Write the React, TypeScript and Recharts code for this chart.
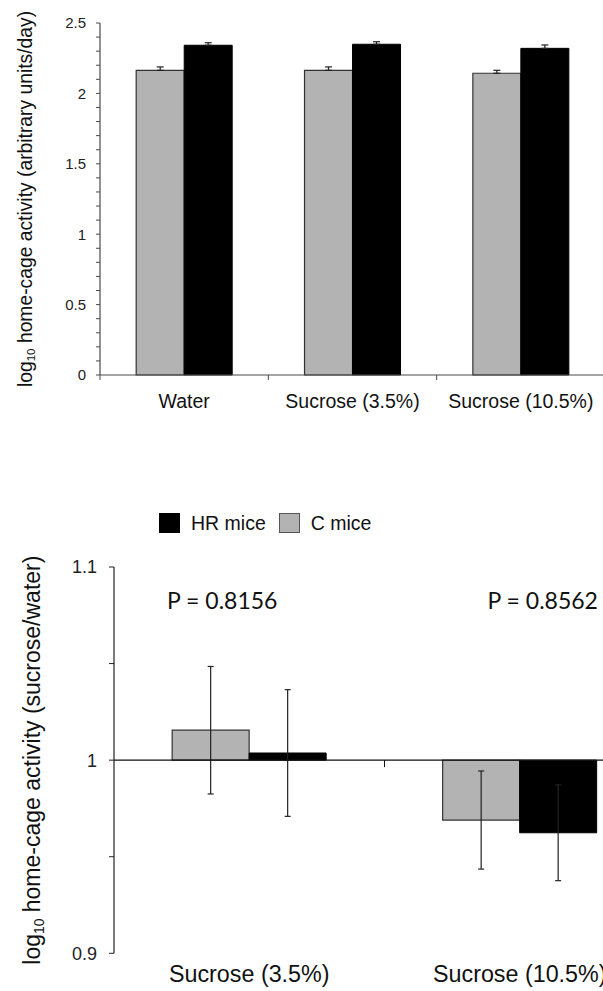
import React from "react";
import {
  BarChart,
  Bar,
  XAxis,
  YAxis,
  ErrorBar,
  Label,
  Legend,
  ReferenceLine,
  ReferenceDot,
} from "recharts";

// top panel: log10 home-cage activity per drink
const categories = ["Water", "Sucrose (3.5%)", "Sucrose (10.5%)"];
const cMice = [2.164, 2.164, 2.143];
const hrMice = [2.342, 2.349, 2.32];
const cMiceErr = [0.024, 0.024, 0.021];
const hrMiceErr = [0.018, 0.018, 0.024];
const topTickLabels = [0, 0.5, 1, 1.5, 2, 2.5];

// bottom panel: ratio sucrose / water
const ratioCategories = ["Sucrose (3.5%)", "Sucrose (10.5%)"];
const cRatio = [1.0155, 0.969];
const hrRatio = [1.0037, 0.9624];
const cRatioErr = [0.033, 0.0254];
const hrRatioErr = [0.0328, 0.0248];
const pValues = ["P = 0.8156", "P = 0.8562"];
const ratioTicks = [0.9, 0.95, 1, 1.05, 1.1];
const ratioTickLabels = [0.9, 1, 1.1];
const BASE = 1;

const SANS = "'Liberation Sans', Arial, sans-serif";
const GRAY = "#b3b3b3";
const AXIS = "#4a4a4a";

const topTicks = Array.from({ length: 26 }, (_, i) => i / 10);

const topData = categories.map((name, i) => ({
  name,
  c: cMice[i],
  hr: hrMice[i],
  cErr: [0, cMiceErr[i]],
  hrErr: [0, hrMiceErr[i]],
}));

const ratioData = ratioCategories.map((name, i) => ({
  name,
  c: cRatio[i] - BASE,
  hr: hrRatio[i] - BASE,
  cErr: cRatioErr[i],
  hrErr: hrRatioErr[i],
}));

// where the P labels sit (ratio units) and their shift from the category centre
const pLevel = 1.083;
const pShift = [-27, 23];

const near = (list: number[], v: number) =>
  list.some((t) => Math.abs(t - v) < 1e-6);

function yLabel(dx: number, fontSize: number, rest: string) {
  return (props: any) => {
    const vb = props.viewBox;
    const cx = vb.x + dx;
    const cy = vb.y + vb.height / 2;
    return (
      <text
        x={cx}
        y={cy}
        transform={`rotate(-90, ${cx}, ${cy})`}
        textAnchor="middle"
        dominantBaseline="central"
        fontSize={fontSize}
        fontFamily={SANS}
        fill="#111"
      >
        log
        <tspan fontSize={fontSize * 0.6} dy={fontSize * 0.3}>
          10
        </tspan>
        <tspan dy={-fontSize * 0.3}>{" " + rest}</tspan>
      </text>
    );
  };
}

function TopTick(props: any) {
  const { x, y, payload } = props;
  const half = payload.offset ?? 0;
  return (
    <g>
      <line x1={x - half} y1={y} x2={x - half} y2={y + 5} stroke={AXIS} />
      <text
        x={x}
        y={y + 33}
        textAnchor="middle"
        fontSize={19.5}
        fontFamily={SANS}
        fill="#111"
      >
        {payload.value}
      </text>
    </g>
  );
}

function BottomTick(props: any) {
  const { x, y, payload } = props;
  return (
    <text
      x={x}
      y={y + 29}
      textAnchor="middle"
      fontSize={23.3}
      fontFamily={SANS}
      fill="#111"
    >
      {payload.value}
    </text>
  );
}

function ZeroLine(props: any) {
  const { x1, y1, x2, y2 } = props;
  const mid = (x1 + x2) / 2;
  return (
    <g>
      <line x1={x1} y1={y1} x2={x2} y2={y2} stroke="#111" strokeWidth={1.2} />
      <line x1={mid} y1={y1} x2={mid} y2={y1 + 7} stroke="#111" />
    </g>
  );
}

const legendOrder = ["hr", "c"];

function renderLegend(props: any) {
  const items = [...(props.payload || [])].sort(
    (a: any, b: any) =>
      legendOrder.indexOf(a.dataKey) - legendOrder.indexOf(b.dataKey)
  );
  return (
    <div
      style={{
        display: "flex",
        alignItems: "center",
        height: 26,
        fontFamily: SANS,
        fontSize: 19.5,
        color: "#111",
        whiteSpace: "nowrap",
      }}
    >
      {items.map((it: any) => (
        <div
          key={it.value}
          style={{ display: "flex", alignItems: "center", marginRight: 13 }}
        >
          <span
            style={{
              display: "inline-block",
              width: 21,
              height: 20,
              background: it.color,
              border: it.dataKey === "c" ? "1px solid #555" : "none",
              boxSizing: "border-box",
              marginRight: 11,
            }}
          />
          <span>{it.value}</span>
        </div>
      ))}
    </div>
  );
}

function pLabel(text: string, shift: number) {
  return (props: any) => {
    const vb = props.viewBox;
    return (
      <text
        x={vb.x + vb.width / 2 + shift}
        y={vb.y + vb.height / 2}
        textAnchor="middle"
        dominantBaseline="central"
        fontSize={23}
        fontFamily="Lato, 'Open Sans', sans-serif"
        fill="#111"
      >
        {text}
      </text>
    );
  };
}

export default function App() {
  return (
    <div
      style={{
        position: "absolute",
        left: 0,
        top: 0,
        width: 603,
        height: 991,
        overflow: "hidden",
        background: "#fff",
      }}
    >
      <div style={{ position: "absolute", left: 0, top: 0 }}>
        <BarChart
          width={620}
          height={420}
          data={topData}
          margin={{ top: 23, right: 15, left: 0, bottom: 0 }}
          barCategoryGap="21.5%"
          barGap={0}
        >
          <XAxis
            dataKey="name"
            height={45}
            interval={0}
            axisLine={{ stroke: AXIS, strokeWidth: 1.2 }}
            tickLine={false}
            tickSize={0}
            tickMargin={0}
            tick={<TopTick />}
          />
          <YAxis
            domain={[0, 2.5]}
            ticks={topTicks}
            interval={0}
            width={100}
            axisLine={{ stroke: AXIS, strokeWidth: 1.2 }}
            tickLine={{ stroke: AXIS }}
            tickSize={4}
            tickMargin={10}
            tick={{ fill: "#222", fontSize: 15, fontFamily: SANS }}
            tickFormatter={(v: number) => (near(topTickLabels, v) ? String(v) : "")}
            label={
              <Label
                content={yLabel(25, 19.3, "home-cage activity (arbitrary units/day)")}
              />
            }
          />
          <Bar dataKey="c" name="C mice" fill={GRAY} stroke="#333" strokeWidth={1.2} isAnimationActive={false}>
            <ErrorBar dataKey="cErr" width={3.5} stroke="#222" strokeWidth={1.2} />
          </Bar>
          <Bar dataKey="hr" name="HR mice" fill="#000" stroke="#000" isAnimationActive={false}>
            <ErrorBar dataKey="hrErr" width={3.5} stroke="#222" strokeWidth={1.2} />
          </Bar>
        </BarChart>
      </div>

      <div style={{ position: "absolute", left: 0, top: 490 }}>
        <BarChart
          width={655}
          height={501}
          data={ratioData}
          margin={{ top: 51, right: 0, left: 0, bottom: 0 }}
          barCategoryGap="21.5%"
          barGap={0}
        >
          <Legend
            verticalAlign="top"
            align="left"
            content={renderLegend}
            wrapperStyle={{ top: 20, left: 159, width: "auto" }}
          />
          <XAxis
            dataKey="name"
            height={37.7}
            interval={0}
            axisLine={false}
            tickLine={false}
            tickSize={0}
            tickMargin={0}
            tick={<BottomTick />}
          />
          <YAxis
            domain={[-0.1, 0.1]}
            ticks={ratioTicks.map((t) => t - BASE)}
            interval={0}
            width={114}
            axisLine={{ stroke: "#222", strokeWidth: 1.2 }}
            tickLine={{ stroke: "#222" }}
            tickSize={5}
            tickMargin={12}
            tick={{ fill: "#222", fontSize: 18, fontFamily: SANS }}
            tickFormatter={(v: number) => {
              const r = Math.round((v + BASE) * 100) / 100;
              return near(ratioTickLabels, r) ? String(r) : "";
            }}
            label={
              <Label content={yLabel(32, 23, "home-cage activity (sucrose/water)")} />
            }
          />
          <Bar dataKey="c" name="C mice" fill={GRAY} stroke="#333" strokeWidth={1.2} isAnimationActive={false}>
            <ErrorBar dataKey="cErr" width={3} stroke="#222" strokeWidth={1.2} />
          </Bar>
          <Bar dataKey="hr" name="HR mice" fill="#000" stroke="#000" isAnimationActive={false}>
            <ErrorBar dataKey="hrErr" width={3} stroke="#222" strokeWidth={1.2} />
          </Bar>
          <ReferenceLine y={0} shape={ZeroLine} />
          {ratioCategories.map((cat, i) => (
            <ReferenceDot
              key={cat}
              x={cat}
              y={pLevel - BASE}
              r={0}
              fill="none"
              stroke="none"
              label={<Label content={pLabel(pValues[i], pShift[i])} />}
            />
          ))}
        </BarChart>
      </div>
    </div>
  );
}
